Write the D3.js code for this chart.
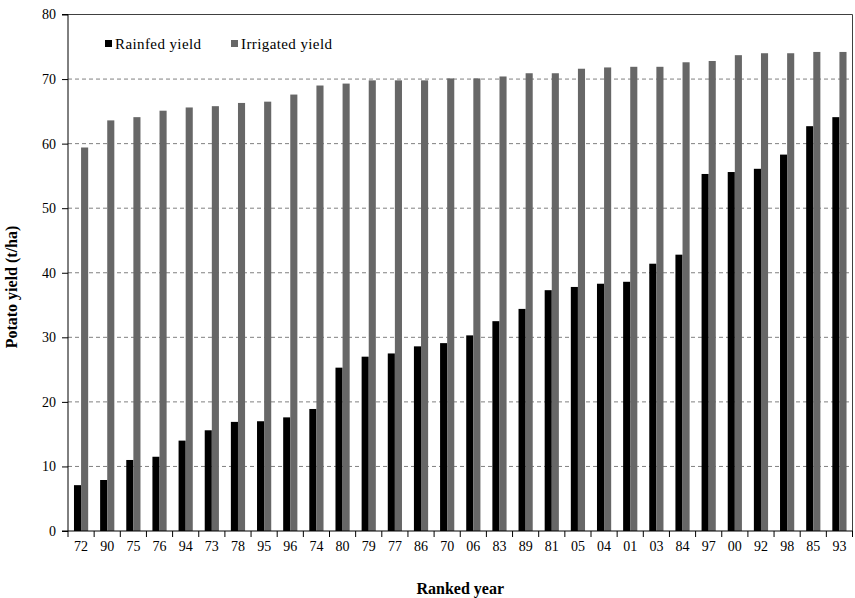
<!DOCTYPE html>
<html>
<head>
<meta charset="utf-8">
<script src="https://cdn.jsdelivr.net/npm/d3@7"></script>
<style>
  body { margin: 0; background: #fff; }
  text { font-family: "Liberation Serif", "Times New Roman", serif; }
</style>
</head>
<body>
<div id="chart"></div>
<script>
var years = ["72","90","75","76","94","73","78","95","96","74","80","79","77","86","70",
             "06","83","89","81","05","04","01","03","84","97","00","92","98","85","93"];
var rainfed = [7.1, 7.9, 11.0, 11.5, 14.0, 15.6, 16.9, 17.0, 17.6, 18.9, 25.3, 27.0, 27.5, 28.6, 29.1,
               30.3, 32.5, 34.4, 37.3, 37.8, 38.3, 38.6, 41.4, 42.8, 55.3, 55.6, 56.1, 58.3, 62.7, 64.1];
var irrigated = [59.4, 63.6, 64.1, 65.1, 65.6, 65.8, 66.3, 66.5, 67.6, 69.0, 69.3, 69.8, 69.8, 69.8, 70.1,
                 70.1, 70.4, 70.9, 70.9, 71.6, 71.8, 71.9, 71.9, 72.6, 72.8, 73.7, 74.0, 74.0, 74.2, 74.2];
var seriesNames = ["Rainfed yield", "Irrigated yield"];
var seriesColors = ["#000000", "#676767"];
var yTicks = [0, 10, 20, 30, 40, 50, 60, 70, 80];

var width = 855, height = 598;
var margin = {top: 14.5, right: 2.5, bottom: 67, left: 68};

var svg = d3.select("#chart").append("svg")
  .attr("width", width)
  .attr("height", height);

var g = svg.append("g")
  .attr("transform", "translate(" + margin.left + "," + margin.top + ")");

var w = width - margin.left - margin.right,
    h = height - margin.top - margin.bottom;

var x0 = d3.scaleBand().domain(years).range([0, w]).paddingInner(0.457).paddingOuter(0.2285);
var x1 = d3.scaleBand().domain([0, 1]).range([0, x0.bandwidth()]);
var y = d3.scaleLinear().domain([0, 80]).range([h, 0]);

// dashed grid
g.selectAll(".grid").data(yTicks.filter(function (d) { return d > 0 && d < 80; }))
  .enter().append("line")
  .attr("x1", 0).attr("x2", w)
  .attr("y1", function (d) { return y(d); })
  .attr("y2", function (d) { return y(d); })
  .attr("stroke", "#808080")
  .attr("stroke-width", 1)
  .attr("stroke-dasharray", "4,3");

// plot border top/right
g.append("line").attr("x1", 0).attr("x2", w).attr("y1", 0).attr("y2", 0)
  .attr("stroke", "#404040").attr("stroke-width", 1);
g.append("line").attr("x1", w).attr("x2", w).attr("y1", 0).attr("y2", h)
  .attr("stroke", "#404040").attr("stroke-width", 1);

// bars
var data = years.map(function (yr, i) { return {year: yr, vals: [rainfed[i], irrigated[i]]}; });
var groups = g.selectAll(".grp").data(data).enter().append("g")
  .attr("transform", function (d) { return "translate(" + x0(d.year) + ",0)"; });
groups.selectAll("rect").data(function (d) { return d.vals; })
  .enter().append("rect")
  .attr("x", function (d, i) { return x1(i); })
  .attr("width", x1.bandwidth())
  .attr("y", function (d) { return y(d); })
  .attr("height", function (d) { return h - y(d); })
  .attr("fill", function (d, i) { return seriesColors[i]; });

// axes
var yAxis = g.append("g")
  .call(d3.axisLeft(y).tickValues(yTicks).tickSize(6).tickPadding(6));
var xAxis = g.append("g")
  .attr("transform", "translate(0," + h + ")")
  .call(d3.axisBottom(x0).tickSize(0).tickPadding(10));

// x tick marks between categories
xAxis.selectAll(".sep").data(d3.range(years.length + 1))
  .enter().append("line")
  .attr("x1", function (i) { return i * x0.step(); })
  .attr("x2", function (i) { return i * x0.step(); })
  .attr("y1", 0).attr("y2", 6)
  .attr("stroke", "#000");

[yAxis, xAxis].forEach(function (a) {
  a.select(".domain").attr("stroke", "#000");
  a.selectAll(".tick line").attr("stroke", "#000");
  a.selectAll("text")
    .style("font-family", "'Liberation Serif', 'Times New Roman', serif")
    .style("font-size", "14px")
    .attr("fill", "#000");
});
yAxis.select(".domain").attr("d", "M-6," + h + "H0V0H-6");
xAxis.select(".domain").attr("d", "M0,0H" + w);

// axis titles
svg.append("text")
  .attr("transform", "translate(17,287) rotate(-90)")
  .attr("text-anchor", "middle")
  .style("font-size", "16px")
  .style("font-weight", "bold")
  .text("Potato yield (t/ha)");

svg.append("text")
  .attr("x", margin.left + w / 2)
  .attr("y", 594)
  .attr("text-anchor", "middle")
  .style("font-size", "16px")
  .style("font-weight", "bold")
  .text("Ranked year");

// legend
var legX = [105, 231];
var leg = svg.selectAll(".leg").data(seriesNames).enter().append("g")
  .attr("transform", function (d, i) { return "translate(" + legX[i] + ",40)"; });
leg.append("rect")
  .attr("width", 7).attr("height", 7)
  .attr("fill", function (d, i) { return seriesColors[i]; });
leg.append("text")
  .attr("x", 10).attr("y", 8.5)
  .style("font-size", "15px")
  .style("letter-spacing", "0.4px")
  .text(function (d) { return d; });
</script>
</body>
</html>
